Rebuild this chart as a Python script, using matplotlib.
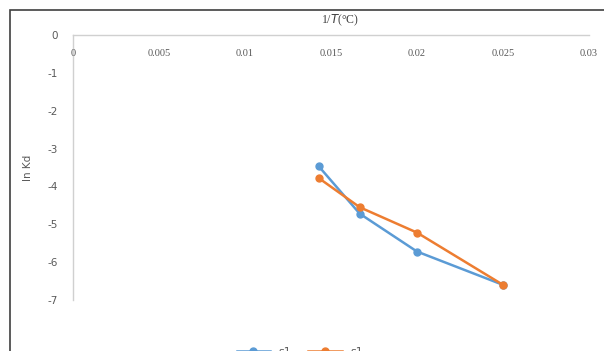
import matplotlib
matplotlib.use("Agg")
import matplotlib.pyplot as plt
from matplotlib.patches import Rectangle

inv_T = [0.01429, 0.01667, 0.02, 0.025]
ln_kd_a = [-3.47, -4.72, -5.72, -6.6]
ln_kd_b = [-3.78, -4.55, -5.22, -6.6]
series_labels = ["s1", "s1"]
x_ticks = [0, 0.005, 0.01, 0.015, 0.02, 0.025, 0.03]
x_tick_labels = ["0", "0.005", "0.01", "0.015", "0.02", "0.025", "0.03"]
y_ticks = [0, -1, -2, -3, -4, -5, -6, -7]

W, H = 604, 351
fig = plt.figure(figsize=(W / 100, H / 100), dpi=100)
fig.patch.set_facecolor("white")

# outer chart border (cropped at right/bottom)
fig.patches.append(Rectangle((9.5 / W, -0.1), 1.2, 1 - 9.5 / H + 0.1,
                             transform=fig.transFigure, fill=False,
                             edgecolor="#404040", linewidth=1.2))

ax = fig.add_axes([73 / W, 1 - 300 / H, (589 - 73) / W, (300 - 35) / H])
ax.set_xlim(0, 0.03)
ax.set_ylim(-7, 0)

blue = "#5B9BD5"
orange = "#ED7D31"
ax.plot(inv_T, ln_kd_a, color=blue, marker="o", markersize=5, linewidth=1.8,
        label=series_labels[0], zorder=3)
ax.plot(inv_T, ln_kd_b, color=orange, marker="o", markersize=5, linewidth=1.8,
        label=series_labels[1], zorder=3)

for s in ["right", "bottom"]:
    ax.spines[s].set_visible(False)
ax.spines["left"].set_color("#d0d0d0")
ax.spines["top"].set_color("#d0d0d0")
ax.spines["left"].set_linewidth(1.0)
ax.spines["top"].set_linewidth(1.0)

ax.set_yticks(y_ticks)
ax.set_yticklabels([str(v) for v in y_ticks])
ax.tick_params(axis="y", length=0, pad=11, labelsize=7.5, labelcolor="#595959")

ax.set_xticks(x_ticks)
ax.set_xticklabels([])
ax.tick_params(axis="x", length=0)
for xv, lab in zip(x_ticks, x_tick_labels):
    ax.text(xv, -0.5, lab, ha="center", va="center", fontsize=7.5,
            color="#595959", family="Liberation Serif")

ax.set_ylabel("ln Kd", fontsize=7.5, color="#595959", labelpad=10)
fig.text(340 / W, 1 - 20 / H, "1/$T$(°C)", ha="center", va="center",
         fontsize=8.5, color="#404040", family="Liberation Serif")

fig.legend(loc="center", bbox_to_anchor=(300 / W, 1 - 352 / H), ncol=2,
           frameon=False, fontsize=8, handlelength=3, columnspacing=1.5,
           labelcolor="#595959")

fig.savefig("out.png", dpi=100)
